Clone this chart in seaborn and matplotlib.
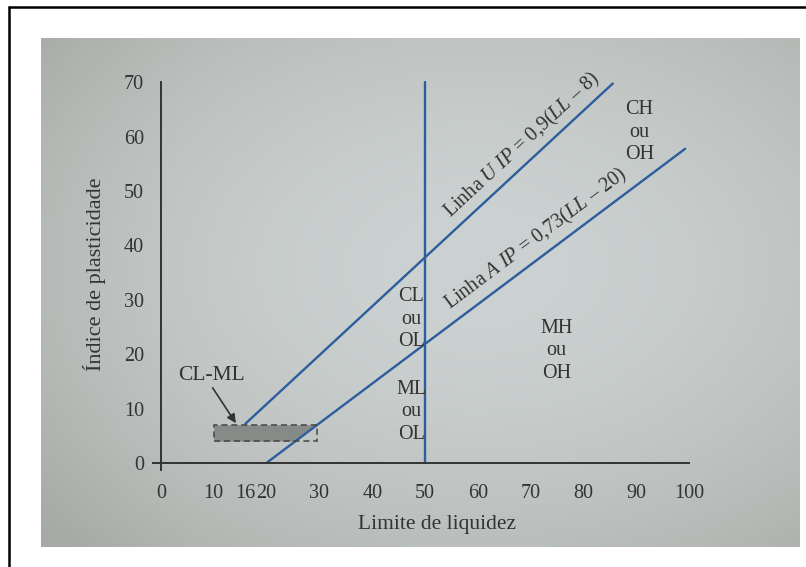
import numpy as np
import matplotlib
matplotlib.use("Agg")
import matplotlib.pyplot as plt
import seaborn as sns
from matplotlib.patches import Rectangle
import pandas as pd

# Carta de plasticidade
u_ll = [16, 85.5]
u_ip = [7.2, 69.8]
a_ll = [20, 99.2]
a_ip = [0, 57.8]
lim_ll = [50, 50]
lim_ip = [0, 70]
clml_ll = [10, 29.6]
clml_ip = [4, 7]
clml_right = [25.5, 29.6]   # linha A em IP=4 e IP=7
x_ticks = [0, 10, 16, 20, 30, 40, 50, 60, 70, 80, 90, 100]
y_ticks = [0, 10, 20, 30, 40, 50, 60, 70]
zones = ["CL\nou\nOL", "ML\nou\nOL", "MH\nou\nOH", "CH\nou\nOH"]
zone_ll = [47.4, 47.4, 74.8, 90.5]
zone_ip = [26.4, 9.4, 20.6, 60.8]

sns.set_theme(style="white")
plt.rcParams["font.family"] = ["Liberation Serif", "DejaVu Serif"]
plt.rcParams["mathtext.fontset"] = "custom"
plt.rcParams["mathtext.rm"] = "Liberation Serif"
plt.rcParams["mathtext.it"] = "Liberation Serif:italic"

INK = "#333333"
BLUE = "#2c5d9c"

fig = plt.figure(figsize=(8.06, 5.67), dpi=100)
fig.patch.set_facecolor("white")

# fundo da foto (leve degradê) + moldura
W, H = 806, 567
bg = fig.add_axes([41 / W, 1 - 547 / H, (800 - 41) / W, (547 - 38) / H], zorder=-1)
gx, gy = np.meshgrid(np.linspace(-1, 1, 80), np.linspace(-1, 1, 60))
shade = np.clip(1 - 0.4 * ((gx - 0.15) ** 2 + (gy + 0.1) ** 2) - 0.15 * (gx < -0.6) * (-0.6 - gx), 0, 1)
c_dark = np.array([0.65, 0.67, 0.65])
c_light = np.array([0.80, 0.82, 0.82])
img = c_dark + (c_light - c_dark) * shade[..., None]
bg.imshow(img, aspect="auto", interpolation="bilinear")
bg.set_axis_off()
fig.add_artist(plt.Line2D([9 / W, 9 / W], [0, 1 - 7 / H], transform=fig.transFigure,
                          color="black", lw=1.8))
fig.add_artist(plt.Line2D([9 / W, 1], [1 - 7 / H, 1 - 7 / H], transform=fig.transFigure,
                          color="black", lw=1.8))

ax = fig.add_axes([145 / W, 1 - 471 / H, 555 / W, 394 / H])
ax.set_facecolor("none")

lines = pd.DataFrame({
    "LL": u_ll + a_ll + lim_ll,
    "IP": u_ip + a_ip + lim_ip,
    "linha": ["U"] * 2 + ["A"] * 2 + ["LL50"] * 2,
})
sns.lineplot(data=lines, x="LL", y="IP", units="linha", estimator=None,
             color=BLUE, lw=1.7, ax=ax, sort=False)

# zona CL-ML
ax.fill_betweenx(clml_ip, clml_ll[0], clml_right, color="#878b87", lw=0, zorder=1)
ax.add_patch(Rectangle((clml_ll[0], clml_ip[0]), clml_ll[1] - clml_ll[0],
                       clml_ip[1] - clml_ip[0], fill=False, ls=(0, (4, 2.5)),
                       lw=1.1, edgecolor="#444444", zorder=2))
ax.text(9.6, 16.0, "CL-ML", fontsize=15.5, color=INK, ha="center", va="center")
ax.annotate("", xy=(14.2, 7.3), xytext=(9.8, 13.8),
            arrowprops=dict(arrowstyle="-|>", color=INK, lw=1.2,
                            shrinkA=0, shrinkB=0, mutation_scale=13))

for txt, x, y in zip(zones, zone_ll, zone_ip):
    ax.text(x, y, txt, ha="center", va="center", fontsize=14.5, color=INK,
            linespacing=1.25)

# rotulos das linhas
ang_u = np.degrees(np.arctan(0.9))
ang_a = np.degrees(np.arctan(0.73))
ax.text(69.8, 56.9, r"Linha $U$ $IP$ = 0,9($LL$ – 8)", fontsize=14.5, color=INK,
        rotation=ang_u, rotation_mode="anchor", transform_rotates_text=True,
        ha="center", va="bottom")
ax.text(72.3, 39.4, r"Linha $A$ $IP$ = 0,73($LL$ – 20)", fontsize=14.5, color=INK,
        rotation=ang_a, rotation_mode="anchor", transform_rotates_text=True,
        ha="center", va="bottom")

ax.set_xlim(-3, 102)
ax.set_ylim(-1.5, 71)
for s in ["top", "right"]:
    ax.spines[s].set_visible(False)
ax.spines["left"].set_position(("data", 0))
ax.spines["bottom"].set_position(("data", 0))
ax.spines["left"].set_bounds(-1.3, 70)
ax.spines["bottom"].set_bounds(-1.5, 100)
for s in ["left", "bottom"]:
    ax.spines[s].set_color(INK)
    ax.spines[s].set_linewidth(1.4)

ax.set_xticks(x_ticks)
ax.set_yticks(y_ticks)
ax.tick_params(axis="both", direction="out", length=7, width=1.3, color=INK,
               labelcolor=INK, labelsize=14.5)
ax.tick_params(axis="x", pad=8)
ax.tick_params(axis="y", pad=5)

ax.set_xlabel("Limite de liquidez", fontsize=15.5, color=INK)
ax.set_ylabel("Índice de plasticidade", fontsize=16, color=INK)
ax.xaxis.set_label_coords(0.526, -0.112)
ax.yaxis.set_label_coords(-0.07, 0.5)

fig.savefig("out.png", dpi=100, facecolor=fig.get_facecolor())
